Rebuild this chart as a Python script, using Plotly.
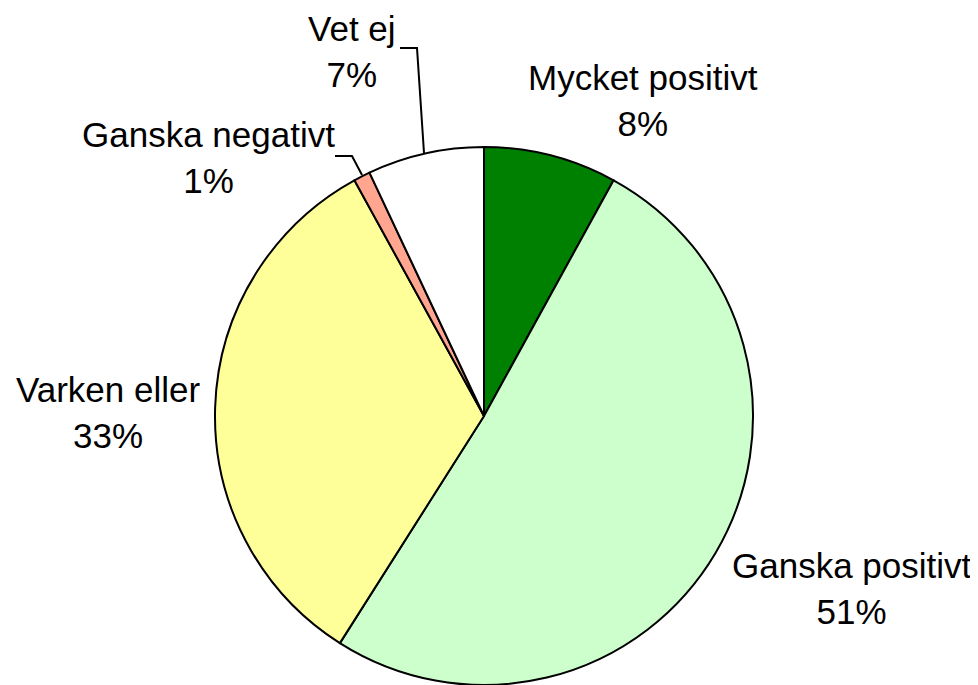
import plotly.graph_objects as go

labels = ["Mycket positivt", "Ganska positivt", "Varken eller", "Ganska negativt", "Vet ej"]
values = [8, 51, 33, 1, 7]
colors = ["#008000", "#CCFFCC", "#FFFF99", "#FFA590", "#FFFFFF"]

W, H = 978, 685
OX, OY = 8, 8  # page body margin offset

def px(x, y):
    return (x - OX) / W, 1 - (y - OY) / H

d0 = px(215, 685)
d1 = px(753, 147)
fig = go.Figure(go.Pie(
    labels=labels, values=values, sort=False, direction="clockwise", rotation=0,
    marker=dict(colors=colors, line=dict(color="black", width=2)),
    textinfo="none", hoverinfo="label+percent", showlegend=False,
    domain=dict(x=[d0[0], d1[0]], y=[d0[1], d1[1]]),
))

label_pos = {
    "Mycket positivt": (643, 100),
    "Ganska positivt": (852, 588),
    "Varken eller": (108, 412),
    "Ganska negativt": (208, 158),
    "Vet ej": (352, 52),
}
total = sum(values)
for lab, v in zip(labels, values):
    x, y = px(*label_pos[lab])
    fig.add_annotation(x=x, y=y, xref="paper", yref="paper", showarrow=False,
                       text=f"{lab}<br>{round(100 * v / total)}%",
                       font=dict(family="Liberation Sans, Arial", size=35, color="black"),
                       xanchor="center", yanchor="middle", align="center")

leaders = [
    [(400, 48), (417, 48), (424, 153)],
    [(335, 156), (352, 156), (362, 175)],
]
for pts in leaders:
    path = "M " + " L ".join(f"{px(x, y)[0]},{px(x, y)[1]}" for x, y in pts)
    fig.add_shape(type="path", path=path, xref="paper", yref="paper",
                  line=dict(color="black", width=2))

fig.update_layout(width=W, height=H, margin=dict(l=0, r=0, t=0, b=0),
                  paper_bgcolor="white", plot_bgcolor="white")
fig.write_html("out.html")
